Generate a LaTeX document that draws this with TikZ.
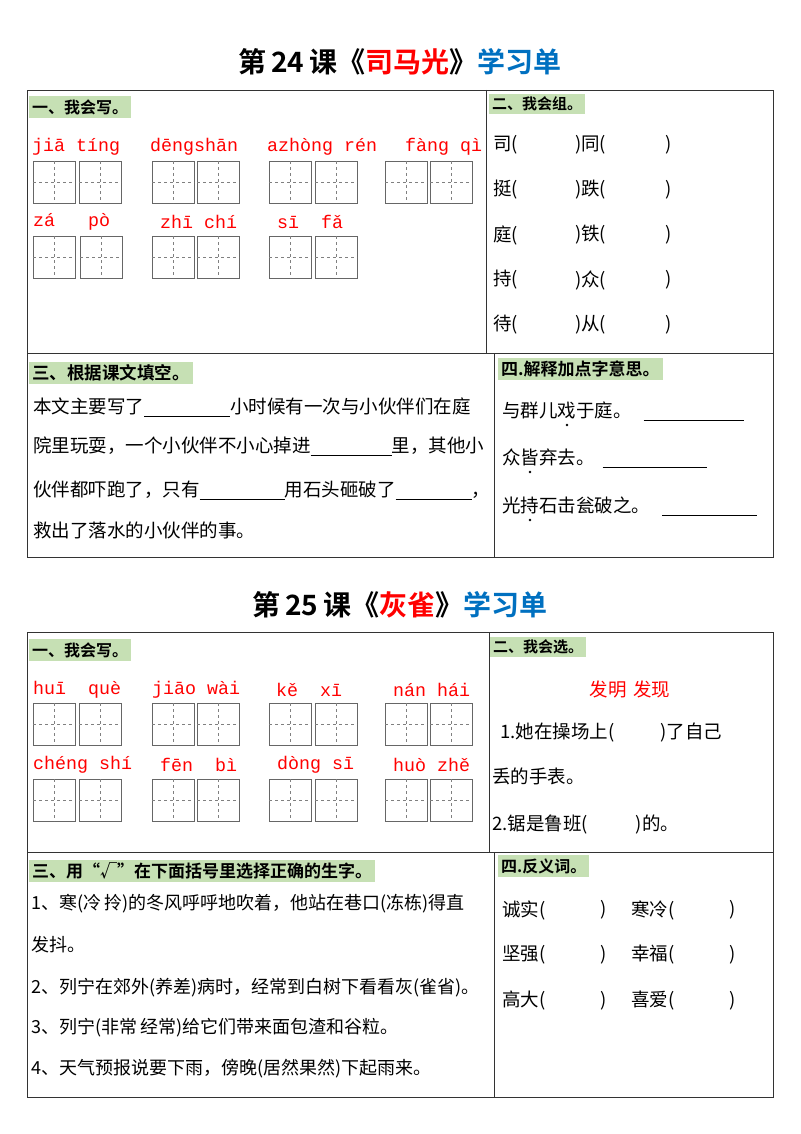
\documentclass[tikz,border=0pt]{standalone}
\usepackage{fontspec}
\setmainfont{Liberation Sans}
\newfontfamily\cjk{Noto Sans CJK SC}
\newfontfamily\cjkb{Noto Sans CJK SC Bold}
\newfontfamily\pyf{Liberation Mono}
\definecolor{hl}{HTML}{C6E0B4}
\definecolor{tblue}{HTML}{0070C0}
\definecolor{pred}{HTML}{FF0000}
\tikzset{
 txt/.style={anchor=west,inner sep=0pt,font=\cjk\fontsize{18.5}{20}\selectfont},
 hdr/.style={anchor=west,fill=hl,inner sep=3pt,font=\cjkb\fontsize{16}{18}\selectfont},
 py/.style={anchor=west,inner sep=0pt,text=pred,font=\pyf\fontsize{18.3}{20}\selectfont},
 ttl/.style={inner sep=0pt,font=\cjkb\fontsize{28}{32}\selectfont},
 frame/.style={draw=black!80,line width=0.8pt}
}
\newcommand{\blank}[1]{\rule[-3pt]{#1pt}{0.6pt}}
\newcommand{\tzg}[2]{%
 \draw[black!60,line width=0.6pt] (#1,#2) rectangle ++(42,42);
 \draw[black!50,dashed,line width=0.5pt] (#1+21,#2) -- ++(0,42) (#1,#2+21) -- ++(42,0);}
\begin{document}
\begin{tikzpicture}[x=1pt,y=-1pt]
\useasboundingbox (0,0) rectangle (800,1134);
% ===== Lesson 24 =====
\node[ttl] (t1) at (400,62) {第\,24\,课《\textcolor{pred}{司马光}》\textcolor{tblue}{学习单}};
\draw[frame] (27,90) rectangle (773,557);
\draw[frame] (486,90) -- (486,353);
\draw[frame] (27,353) -- (773,353);
\draw[frame] (494,353) -- (494,557);
\node[hdr] (h11) at (29,107) {一、我会写。};
\foreach \x/\t in {32/{jiā tíng},150/{dēngshān},267/{azhòng rén},405/{fàng qì}}
  \node[py] at (\x,147) {\t};
\foreach \x in {33,79,152,197,269,315,385,430} {\tzg{\x}{161}}
\foreach \x/\t in {33/{zá\ \ \ pò},160/{zhī chí},277/{sī\ \ fǎ}}
  \node[py] at (\x,222) {\t};
\foreach \x in {33,80,152,197,269,315} {\tzg{\x}{236}}
\node[hdr,font=\cjkb\fontsize{15}{17}\selectfont] (h12) at (489,104) {二、我会组。};
\foreach \a/\b/\y in {司/同/145,挺/跌/190,庭/铁/235,持/众/280,待/从/325}{
  \node[txt] at (493,\y) {\a(};
  \node[txt] at (575,\y) {)\b(};
  \node[txt] at (665,\y) {)};}
\node[hdr,font=\cjkb\fontsize{17.5}{19}\selectfont] (h13) at (29,373) {三、根据课文填空。};
\node[txt] (l1) at (33,407) {本文主要写了\blank{86}小时候有一次与小伙伴们在庭};
\node[txt] (l2) at (33,446) {院里玩耍，一个小伙伴不小心掉进\blank{81}里，其他小};
\node[txt] (l3) at (33,490) {伙伴都吓跑了，只有\blank{85}用石头砸破了\blank{76}，};
\node[txt] (l4) at (33,530) {救出了落水的小伙伴的事。};
\node[hdr,font=\cjkb\fontsize{17}{19}\selectfont] (h14) at (498,369) {四.解释加点字意思。};
\node[txt] (e1) at (502,411) {与群儿戏于庭。\hspace{12pt}\blank{100}};
\node[txt] (e2) at (502,458) {众皆弃去。\hspace{8pt}\blank{104}};
\node[txt] (e3) at (502,506) {光持石击瓮破之。\hspace{12pt}\blank{95}};
\fill (567,425) circle (1.4) (530,472) circle (1.4) (530,520) circle (1.4);
% ===== Lesson 25 =====
\node[ttl] (t2) at (400,605) {第\,25\,课《\textcolor{pred}{灰雀}》\textcolor{tblue}{学习单}};
\draw[frame] (27,632) rectangle (773,1097);
\draw[frame] (489,632) -- (489,852);
\draw[frame] (27,852) -- (773,852);
\draw[frame] (494,852) -- (494,1097);
\node[hdr] (h21) at (29,650) {一、我会写。};
\foreach \x/\t in {33/{huī\ \ què},152/{jiāo wài},276/{kě\ \ xī},393/{nán hái}}
  \node[py] at (\x,690) {\t};
\foreach \x in {33,79,152,197,269,315,385,430} {\tzg{\x}{703}}
\foreach \x/\t in {33/{chéng shí},160/{fēn\ \ bì},277/{dòng sī},393/{huò zhě}}
  \node[py] at (\x,765) {\t};
\foreach \x in {33,79,152,197,269,315,385,430} {\tzg{\x}{779}}
\node[hdr,font=\cjkb\fontsize{15}{17}\selectfont] (h22) at (490,647) {二、我会选。};
\node[txt,anchor=center,text=pred] (c0) at (630,689) {发明\,\,发现};
\node[txt] (c1) at (500,733) {1.她在操场上(\hspace{46pt})了自己};
\node[txt] (c2) at (492,776) {丢的手表。};
\node[txt] (c3) at (492,824) {2.锯是鲁班(\hspace{48pt})的。};
\node[hdr,font=\cjkb\fontsize{17}{19}\selectfont] (h23) at (29,871) {三、用“√”在下面括号里选择正确的生字。};
\node[txt,font=\cjk\fontsize{18}{20}\selectfont] (s1) at (31,904) {1、寒(冷\,拎)的冬风呼呼地吹着，他站在巷口(冻栋)得直};
\node[txt,font=\cjk\fontsize{18}{20}\selectfont] (s2) at (31,945) {发抖。};
\node[txt,font=\cjk\fontsize{18}{20}\selectfont] (s3) at (31,988) {2、列宁在郊外(养差)病时，经常到白树下看看灰(雀省)。};
\node[txt,font=\cjk\fontsize{18}{20}\selectfont] (s4) at (31,1028) {3、列宁(非常\,经常)给它们带来面包渣和谷粒。};
\node[txt,font=\cjk\fontsize{18}{20}\selectfont] (s5) at (31,1069) {4、天气预报说要下雨，傍晚(居然果然)下起雨来。};
\node[hdr,font=\cjkb\fontsize{16}{18}\selectfont] (h24) at (498,866) {四.反义词。};
\foreach \a/\b/\y in {诚实/寒冷/910,坚强/幸福/955,高大/喜爱/1001}{
  \node[txt] at (502,\y) {\a(};
  \node[txt] at (600,\y) {)};
  \node[txt] at (631,\y) {\b(};
  \node[txt] at (729,\y) {)};}
\end{tikzpicture}
\end{document}
